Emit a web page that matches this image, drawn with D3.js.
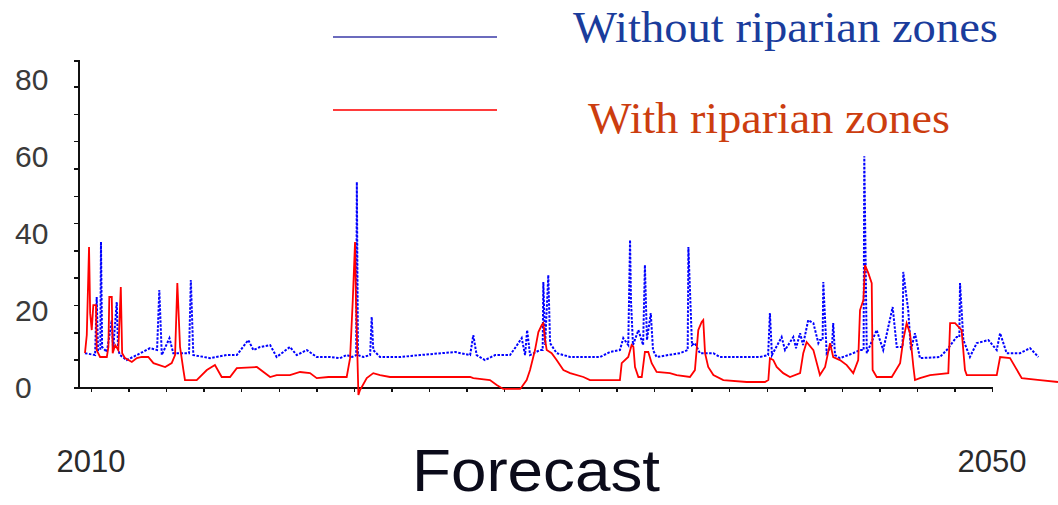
<!DOCTYPE html>
<html>
<head>
<meta charset="utf-8">
<script src="https://cdn.jsdelivr.net/npm/d3@7"></script>
<style>
    body { margin: 0; background: #fff; }
    svg { display: block; }
</style>
</head>
<body>
<div id="chart"></div>
<script>
// flow series (decimal years, values)
let withoutYears = [
    2009.73, 2010.18, 2010.25, 2010.31, 2010.41, 2010.44, 2010.49, 2010.70, 2010.92, 2010.98,
    2011.14, 2011.20, 2011.29, 2011.58, 2012.03, 2012.62, 2012.93, 2013.03, 2013.14, 2013.48,
    2013.65, 2014.35, 2014.43, 2014.54, 2015.28, 2016.02, 2016.47, 2016.98, 2017.21, 2017.50,
    2017.95, 2018.24, 2018.83, 2019.13, 2019.58, 2020.02, 2020.61, 2021.05, 2021.35, 2021.59,
    2021.77, 2021.80, 2021.85, 2022.09, 2022.39, 2022.46, 2022.53, 2022.83, 2023.72, 2024.61,
    2026.16, 2026.83, 2026.97, 2027.12, 2027.49, 2027.94, 2028.60, 2028.82, 2029.12, 2029.27,
    2029.36, 2029.49, 2029.93, 2030.05, 2030.08, 2030.16, 2030.30, 2030.38, 2030.67, 2031.27,
    2031.71, 2032.60, 2033.04, 2033.48, 2033.63, 2033.85, 2033.93, 2033.97, 2034.06, 2034.30,
    2034.51, 2034.59, 2034.68, 2034.85, 2034.95, 2035.11, 2036.15, 2036.49, 2036.52, 2036.68,
    2036.81, 2037.03, 2037.63, 2037.92, 2039.70, 2040.06, 2040.14, 2040.23, 2040.66, 2040.81,
    2041.18, 2041.30, 2041.48, 2041.61, 2041.84, 2042.07, 2042.29, 2042.36, 2042.48, 2042.51,
    2042.66, 2042.90, 2042.95, 2043.03, 2043.25, 2043.84, 2044.14, 2044.30, 2044.33, 2044.44,
    2044.88, 2045.17, 2045.59, 2045.77, 2046.03, 2046.06, 2046.28, 2046.40, 2046.58, 2046.80,
    2047.69, 2047.99, 2048.43, 2048.55, 2048.58, 2048.73, 2049.02, 2049.32, 2049.84, 2050.21,
    2050.36, 2050.65, 2051.24, 2051.69, 2052.06
];
let withoutValues = [
    8.8, 8.3, 23.4, 9.6, 9.6, 37.7, 10.4, 9.1, 17.4, 9.6,
    22.1, 9.6, 8.3, 7.0, 8.3, 10.1, 9.6, 25.2, 8.3, 12.7,
    8.8, 8.8, 27.8, 8.3, 7.5, 8.3, 8.3, 12.2, 9.6, 10.4,
    10.9, 7.8, 10.4, 8.3, 9.6, 7.8, 7.8, 7.5, 8.3, 7.8,
    8.3, 53.3, 8.3, 7.8, 8.3, 18.2, 9.6, 7.8, 7.8, 8.3,
    9.1, 8.3, 13.5, 8.3, 7.0, 8.3, 8.3, 10.1, 12.7, 8.3,
    14.8, 8.3, 9.6, 9.6, 27.3, 10.9, 29.1, 11.4, 8.8, 7.8,
    7.8, 7.8, 9.1, 9.6, 12.7, 10.9, 38.2, 22.6, 10.9, 14.8,
    10.9, 31.7, 12.2, 19.2, 9.6, 7.8, 8.8, 9.6, 36.4, 10.9,
    11.4, 8.8, 8.8, 7.8, 7.8, 8.3, 19.2, 8.3, 13.0, 9.6,
    13.0, 10.1, 14.0, 10.9, 17.4, 16.6, 11.4, 12.2, 12.2, 27.3,
    8.8, 10.9, 16.6, 8.3, 7.5, 8.8, 9.6, 9.6, 60.0, 8.8,
    14.8, 9.6, 20.8, 10.4, 10.4, 29.9, 20.0, 9.6, 14.0, 7.5,
    7.8, 9.6, 13.0, 13.0, 27.0, 12.2, 7.8, 11.4, 12.2, 9.6,
    14.0, 8.8, 8.8, 10.1, 7.8
];

let withYears = [
    2009.73, 2009.81, 2009.91, 2009.96, 2010.03, 2010.10, 2010.22, 2010.25, 2010.40, 2010.70,
    2010.77, 2010.81, 2010.92, 2010.96, 2011.07, 2011.21, 2011.32, 2011.38, 2011.51, 2011.81,
    2012.03, 2012.25, 2012.54, 2012.77, 2013.29, 2013.58, 2013.73, 2013.83, 2013.95, 2014.10,
    2014.17, 2014.69, 2015.14, 2015.50, 2015.80, 2016.17, 2016.47, 2017.36, 2017.95, 2018.24,
    2018.83, 2019.28, 2019.72, 2020.02, 2020.54, 2021.35, 2021.50, 2021.62, 2021.72, 2021.76,
    2021.87, 2021.94, 2022.02, 2022.24, 2022.53, 2022.83, 2023.27, 2026.83, 2026.97, 2027.71,
    2028.01, 2028.30, 2029.05, 2029.12, 2029.34, 2029.49, 2029.71, 2029.86, 2030.01, 2030.08,
    2030.16, 2030.23, 2030.45, 2030.67, 2030.97, 2031.27, 2031.86, 2032.15, 2033.48, 2033.56,
    2033.85, 2034.00, 2034.08, 2034.15, 2034.30, 2034.45, 2034.59, 2034.74, 2034.89, 2035.11,
    2035.70, 2036.00, 2036.59, 2036.81, 2036.96, 2037.11, 2037.18, 2037.26, 2037.40, 2037.63,
    2038.07, 2039.11, 2039.92, 2040.07, 2040.14, 2040.29, 2040.44, 2040.73, 2041.03, 2041.48,
    2041.62, 2041.77, 2042.07, 2042.36, 2042.59, 2042.81, 2042.95, 2043.25, 2043.55, 2043.84,
    2044.06, 2044.14, 2044.29, 2044.36, 2044.51, 2044.66, 2044.70, 2044.88, 2045.55, 2045.92,
    2046.06, 2046.21, 2046.36, 2046.51, 2046.58, 2046.80, 2047.25, 2048.06, 2048.14, 2048.36,
    2048.65, 2048.80, 2048.88, 2050.21, 2050.36, 2050.80, 2051.32, 2052.13, 2052.93
];
let withValues = [
    8.8, 13.5, 36.4, 19.2, 14.8, 21.3, 21.3, 9.6, 7.8, 7.8,
    10.4, 23.4, 23.4, 8.8, 10.9, 9.6, 26.0, 8.8, 7.5, 6.5,
    7.5, 7.8, 7.8, 6.2, 5.2, 6.2, 8.3, 27.0, 10.4, 4.4,
    1.8, 1.8, 4.4, 5.7, 2.6, 2.6, 4.9, 5.2, 2.6, 3.1,
    3.1, 3.9, 3.6, 2.3, 2.6, 2.6, 7.5, 22.6, 37.7, 22.6,
    -2.1, -0.8, 0, 2.3, 3.6, 3.1, 2.6, 2.6, 2.3, 1.8,
    0.5, -0.5, -0.5, 0, 1.8, 4.4, 9.6, 14.3, 16.1, 16.6,
    12.2, 9.6, 8.8, 7.0, 4.4, 3.6, 2.6, 1.8, 1.8, 6.2,
    7.8, 10.9, 10.4, 5.2, 2.6, 2.6, 9.1, 9.1, 6.2, 3.9,
    3.6, 3.1, 2.6, 4.4, 14.8, 16.9, 17.4, 8.8, 5.2, 3.1,
    1.8, 1.3, 1.3, 1.8, 7.5, 7.0, 5.2, 3.6, 2.6, 3.6,
    8.8, 11.7, 9.6, 3.1, 5.2, 11.4, 7.8, 7.0, 5.7, 3.6,
    7.0, 20.0, 22.6, 31.7, 29.6, 27.0, 4.4, 2.6, 2.6, 6.2,
    12.2, 16.6, 14.0, 5.2, 1.8, 2.3, 3.1, 3.6, 16.6, 16.6,
    14.8, 4.4, 3.1, 3.1, 7.8, 7.5, 2.3, 1.8, 1.3
];

let yTickLabels = [0, 20, 40, 60, 80];
let xTickLabels = [2010, 2050];
let seriesNames = ["Without riparian zones", "With riparian zones"];

function render() {
    let width = 1058, height = 505;

    let svg = d3.select("#chart")
        .append("svg")
        .attr("width", width)
        .attr("height", height)
        .style("background", "#fff");

    let x = d3.scaleLinear()
        .domain([2009.42, 2050])
        .range([78, 992]);

    let y = d3.scaleLinear()
        .domain([0, 85])
        .range([387, 60]);

    // axes: ticks only, the labels are placed by hand below
    svg.append("g")
        .attr("transform", "translate(78,0)")
        .call(d3.axisLeft(y)
            .tickValues(d3.range(0, 79, 7.1))
            .tickSize(4)
            .tickSizeOuter(4)
            .tickFormat(""));

    svg.append("g")
        .attr("transform", "translate(0,387)")
        .call(d3.axisBottom(x)
            .tickValues(d3.range(0, 25).map(function (k) { return 2010 + k * 40 / 24; }))
            .tickSize(5)
            .tickSizeOuter(0)
            .tickFormat(""));

    svg.selectAll(".domain")
        .attr("stroke", "#111")
        .attr("stroke-width", 2)
        .attr("shape-rendering", "crispEdges");
    svg.selectAll(".tick line")
        .attr("stroke", "#111")
        .attr("stroke-width", 1.5)
        .attr("shape-rendering", "crispEdges");

    let line = d3.line()
        .x(function (d) { return x(d[0]); })
        .y(function (d) { return y(d[1]); });

    svg.append("path")
        .datum(d3.zip(withoutYears, withoutValues))
        .attr("d", line)
        .attr("fill", "none")
        .attr("stroke", "#0000ff")
        .attr("stroke-width", 2)
        .attr("stroke-dasharray", "2.5,1.5");

    svg.append("path")
        .datum(d3.zip(withYears, withValues))
        .attr("d", line)
        .attr("fill", "none")
        .attr("stroke", "#ff0000")
        .attr("stroke-width", 1.8);

    // y labels
    svg.selectAll(".ylabel")
        .data(yTickLabels)
        .enter()
        .append("text")
            .attr("x", 15)
            .attr("y", function (d) { return y(d); })
            .attr("dy", "0.36em")
            .text(function (d) { return d; })
            .attr("font-family", "Liberation Sans, Arial, sans-serif")
            .attr("font-size", "30px")
            .attr("fill", "#3a3a3a");

    // year labels under the axis
    svg.selectAll(".xlabel")
        .data(xTickLabels)
        .enter()
        .append("text")
            .attr("x", function (d) { return x(d); })
            .attr("y", 472)
            .attr("text-anchor", "middle")
            .text(function (d) { return d; })
            .attr("font-family", "Liberation Sans, Arial, sans-serif")
            .attr("font-size", "31px")
            .attr("fill", "#2a2a2a");

    svg.append("text")
        .attr("x", 536)
        .attr("y", 491)
        .attr("text-anchor", "middle")
        .attr("font-family", "Liberation Sans, Arial, sans-serif")
        .attr("font-size", "60px")
        .attr("textLength", 248)
        .attr("lengthAdjust", "spacingAndGlyphs")
        .attr("fill", "#0b0b1a")
        .text("Forecast");

    // legend
    let legend = [
        { name: seriesNames[0], lineY: 37, textX: 573, textY: 42, len: 425, line: "#6b6bbd", text: "#1a3c9c" },
        { name: seriesNames[1], lineY: 110, textX: 588, textY: 133, len: 362, line: "#ff3b3b", text: "#cc3d0f" }
    ];

    svg.selectAll(".legline")
        .data(legend)
        .enter()
        .append("line")
            .attr("x1", 333)
            .attr("x2", 497)
            .attr("y1", function (d) { return d.lineY; })
            .attr("y2", function (d) { return d.lineY; })
            .attr("stroke", function (d) { return d.line; })
            .attr("stroke-width", 2);

    svg.selectAll(".legtext")
        .data(legend)
        .enter()
        .append("text")
            .attr("x", function (d) { return d.textX; })
            .attr("y", function (d) { return d.textY; })
            .attr("textLength", function (d) { return d.len; })
            .attr("lengthAdjust", "spacingAndGlyphs")
            .attr("font-family", "Liberation Serif, Times New Roman, serif")
            .attr("font-size", "45px")
            .attr("fill", function (d) { return d.text; })
            .text(function (d) { return d.name; });
}

render();
</script>
</body>
</html>
